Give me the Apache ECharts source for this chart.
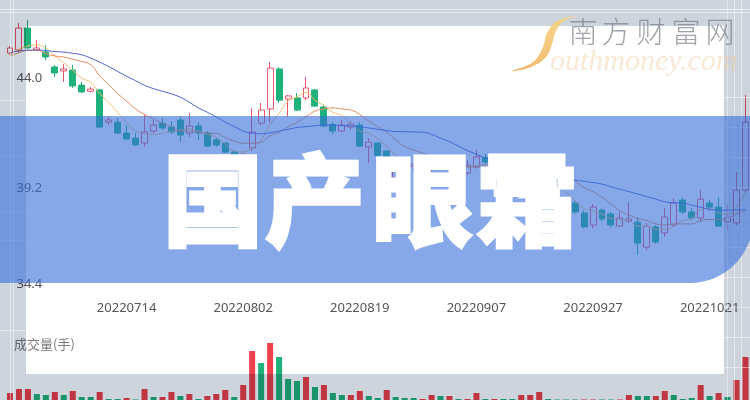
<!DOCTYPE html>
<html><head><meta charset="utf-8">
<script src="https://cdn.jsdelivr.net/npm/echarts@6/dist/echarts.min.js"></script>
<style>html,body{margin:0;padding:0;background:#fff}#c{width:750px;height:400px}</style>
</head><body><div id="c"></div>
<script>
const dates = ['20220627','20220628','20220629','20220630','20220701','20220704','20220705','20220706','20220707','20220708',
'20220711','20220712','20220713','20220714','20220715','20220718','20220719','20220720','20220721','20220722',
'20220725','20220726','20220727','20220728','20220729','20220801','20220802','20220803','20220804','20220805',
'20220808','20220809','20220810','20220811','20220812','20220815','20220816','20220817','20220818','20220819',
'20220822','20220823','20220824','20220825','20220826','20220829','20220830','20220831','20220901','20220902',
'20220905','20220906','20220907','20220908','20220909','20220913','20220914','20220915','20220916','20220919',
'20220920','20220921','20220922','20220923','20220926','20220927','20220928','20220929','20220930','20221010',
'20221011','20221012','20221013','20221014','20221017','20221018','20221019','20221020','20221021','20221024',
'20221025','20221026','20221027'];
const openP = [45.13,45.27,46.26,45.27,45.18,44.50,44.32,44.36,43.68,43.40,
43.46,42.00,42.00,41.51,41.28,41.06,41.60,41.96,41.78,42.10,
41.51,41.83,41.51,41.20,41.06,40.65,40.25,40.83,41.96,42.60,
44.41,43.05,43.10,43.10,43.46,42.69,41.90,41.60,41.78,41.87,
40.88,41.06,40.70,39.48,39.90,40.00,40.10,39.90,40.05,39.85,
39.95,39.70,39.97,40.40,40.20,40.35,40.25,40.05,40.30,39.90,
38.90,38.60,38.45,38.34,37.89,37.35,38.03,37.85,37.30,37.53,
37.48,36.35,37.26,36.99,37.35,38.48,37.94,37.67,38.34,38.16,
37.50,37.44,38.93];
const closeP = [45.36,46.26,45.36,45.36,44.95,44.23,44.41,43.64,43.37,43.50,
41.78,42.10,41.51,41.24,40.97,41.56,41.87,41.74,41.56,41.42,
41.83,41.51,40.92,40.97,40.65,40.30,40.55,41.56,42.55,44.45,
43.00,43.19,42.55,43.55,42.73,41.83,41.60,41.87,41.92,40.92,
41.10,40.50,40.20,39.88,39.70,40.10,39.90,40.05,39.90,39.95,
39.80,40.06,40.43,40.20,40.35,40.25,40.10,40.30,40.25,38.84,
38.60,38.45,38.30,37.94,37.26,38.16,37.62,37.35,37.67,37.62,
36.53,37.30,36.58,37.71,38.34,37.94,37.67,38.52,38.16,37.30,
37.70,38.93,42.00];
const highP = [45.45,46.49,46.62,45.72,45.49,44.59,44.63,44.59,43.82,43.60,
43.50,42.24,42.19,41.87,41.51,42.33,42.10,42.19,42.05,42.24,
42.42,42.00,41.60,41.30,41.10,40.75,40.60,42.64,42.87,44.72,
44.50,43.23,43.32,44.05,43.50,42.80,42.00,42.10,42.05,42.00,
41.28,41.10,40.70,40.00,40.10,40.15,40.25,40.20,40.15,40.10,
40.05,40.29,40.74,40.55,40.50,40.45,40.40,40.45,40.55,39.95,
39.00,38.80,38.60,38.45,38.00,38.30,38.10,37.95,37.94,38.39,
37.71,37.44,37.35,38.12,38.57,38.60,38.12,38.93,38.50,38.60,
38.30,39.75,43.23];
const lowP = [45.05,45.18,45.31,45.22,44.81,44.05,43.82,43.55,43.32,43.35,
41.74,41.87,41.47,41.19,40.93,40.88,41.51,41.65,41.47,41.10,
41.33,41.20,40.88,40.90,40.60,40.10,40.05,40.70,41.87,42.00,
42.87,42.24,42.50,43.00,42.70,41.78,41.47,41.56,41.65,40.88,
40.15,40.40,40.00,39.40,39.55,39.75,39.80,39.80,39.85,39.70,
39.70,39.61,39.90,40.10,40.10,40.15,40.00,39.95,40.10,38.70,
38.45,38.30,38.10,37.85,37.20,37.20,37.50,37.25,37.26,37.44,
35.99,36.22,36.50,36.81,37.26,37.85,37.58,37.48,38.00,37.26,
37.10,37.35,38.80];
const ma5 = [45.10,45.30,45.45,45.50,45.35,45.00,44.70,44.35,44.00,43.80,
43.30,42.90,42.45,42.00,41.60,41.50,41.45,41.50,41.60,41.65,
41.70,41.60,41.45,41.30,41.00,40.70,40.65,40.85,41.20,41.90,
42.40,42.95,43.15,43.35,43.00,42.75,42.45,42.30,41.95,41.60,
41.50,41.25,40.90,40.50,40.25,40.05,39.95,39.95,39.95,39.98,
39.92,39.95,40.05,40.10,40.20,40.25,40.25,40.25,40.25,39.95,
39.60,39.30,38.85,38.45,38.10,38.00,37.85,37.65,37.60,37.55,
37.30,37.30,37.15,37.15,37.30,37.55,37.65,38.05,38.10,37.90,
37.85,38.15,38.85];
const ma10 = [45.00,45.15,45.25,45.25,45.10,45.00,44.95,44.85,44.75,44.60,
44.10,43.70,43.30,42.95,42.60,42.35,42.15,41.95,41.80,41.60,
41.60,41.55,41.50,41.50,41.30,41.15,41.05,41.05,41.10,41.40,
41.55,41.80,42.00,42.25,42.50,42.60,42.65,42.60,42.55,42.35,
42.05,41.80,41.55,41.20,40.90,40.75,40.60,40.45,40.25,40.10,
40.00,39.98,40.00,40.02,40.05,40.10,40.12,40.15,40.18,40.05,
39.95,39.80,39.60,39.35,39.05,38.85,38.60,38.30,38.00,37.80,
37.65,37.55,37.40,37.35,37.40,37.40,37.40,37.55,37.60,37.60,
37.65,37.85,38.00];
const ma20 = [45.15,45.22,45.26,45.27,45.24,45.20,45.17,45.12,45.05,44.90,
44.72,44.52,44.30,44.08,43.88,43.67,43.52,43.40,43.28,43.13,
42.90,42.65,42.45,42.24,42.00,41.80,41.60,41.50,41.48,41.52,
41.60,41.68,41.76,41.80,41.84,41.87,41.87,41.85,41.83,41.80,
41.74,41.68,41.62,41.58,41.57,41.56,41.55,41.45,41.28,41.12,
40.92,40.72,40.55,40.38,40.25,40.12,40.00,39.88,39.78,39.68,
39.60,39.50,39.43,39.38,39.33,39.27,39.20,39.08,38.97,38.86,
38.75,38.63,38.52,38.40,38.36,38.34,38.25,38.15,38.06,38.02,
38.02,38.03,38.05];
const volumes = [700,1100,1100,600,500,800,500,900,300,300,
800,100,100,200,50,1100,300,300,800,400,
600,100,400,600,1000,300,1500,4900,3700,5700,
4300,2100,1900,2300,1300,1500,700,500,500,900,
400,200,1000,300,200,200,100,500,400,400,
100,100,700,100,100,100,100,500,500,800,
100,50,50,50,50,50,50,50,50,500,
400,400,400,900,500,100,200,1500,400,700,
300,2000,4300];
const volDir = [1,1,1,-1,-1,1,-1,1,-1,-1,
1,-1,-1,1,-1,1,-1,1,1,-1,
1,-1,1,1,1,-1,1,1,-1,1,
-1,-1,-1,1,-1,1,-1,-1,1,1,
-1,-1,1,-1,-1,-1,1,1,-1,1,
-1,1,1,-1,1,-1,-1,1,1,1,
-1,-1,-1,-1,1,1,-1,-1,1,1,
-1,-1,1,1,-1,-1,-1,1,-1,1,
-1,1,1];
const priceTicks = [34.4, 39.2, 44.0];
const titleChars = ['国','产','眼','霜'];
const wmChars = ['南','方','财','富','网'];

const UP = '#ec5467', DOWN = '#1fb27b', VUP = '#ee3f4c';
const candle = dates.map((d,i)=>[openP[i], closeP[i], lowP[i], highP[i]]);
const vol = volumes.map((v,i)=>({value:v, itemStyle:{color: volDir[i]>0 ? VUP : DOWN}}));

const tickStep = priceTicks[1]-priceTicks[0];
const chart = echarts.init(document.getElementById('c'), null, {renderer:'canvas'});

const frameFill = '#cdd4dc';
const graphics = [
  {type:'rect', z:100, shape:{x:0,y:0,width:750,height:26}, style:{fill:frameFill, blend:'multiply'}},
  {type:'rect', z:100, shape:{x:0,y:374,width:750,height:26}, style:{fill:frameFill, blend:'multiply'}},
  {type:'rect', z:100, shape:{x:0,y:26,width:26,height:348}, style:{fill:frameFill, blend:'multiply'}},
  {type:'rect', z:100, shape:{x:724,y:26,width:26,height:348}, style:{fill:frameFill, blend:'multiply'}}
];
[9.5,12.5].forEach(y=>graphics.push({type:'line', z:101, shape:{x1:0,y1:y,x2:750,y2:y}, style:{stroke:'rgba(255,255,255,0.55)', lineWidth:1}}));
[10.5,13.5].forEach(x=>graphics.push({type:'line', z:101, shape:{x1:x,y1:0,x2:x,y2:400}, style:{stroke:'rgba(255,255,255,0.45)', lineWidth:1}}));
[727.5,734.5,741.5].forEach(x=>graphics.push({type:'line', z:101, shape:{x1:x,y1:0,x2:x,y2:400}, style:{stroke:'rgba(255,255,255,0.45)', lineWidth:1}}));
[100,155,212,240,330].forEach(y=>graphics.push({type:'line', z:101, shape:{x1:0,y1:y+.5,x2:26,y2:y+.5}, style:{stroke:'rgba(255,255,255,0.45)', lineWidth:1}}));
[97,127,157,187,217,247,277,307,337,367].forEach(y=>graphics.push({type:'line', z:101, shape:{x1:724,y1:y+.5,x2:750,y2:y+.5}, style:{stroke:'rgba(255,255,255,0.45)', lineWidth:1}}));
graphics.push({type:'rect', z:110, shape:{x:-10,y:116,width:763,height:167,r:[0,0,63,0]}, style:{fill:'rgba(53,110,217,0.6)'}});
const tX = [213,315,422,527];
titleChars.forEach((ch,k)=>graphics.push({type:'text', z:120, x:tX[k], y:200,
  style:{text:ch, fill:'#ffffff', font:'900 100px "Noto Sans CJK SC"', textAlign:'center', textVerticalAlign:'middle', stroke:'#ffffff', lineWidth:3}}));
const wX = [583,616,651,686,720];
wmChars.forEach((ch,k)=>graphics.push({type:'text', z:115, x:wX[k], y:32,
  style:{text:ch, fill:'rgba(120,125,131,0.7)', font:'300 29px "Noto Sans CJK SC"', textAlign:'center', textVerticalAlign:'middle'}}));
graphics.push({type:'text', z:115, x:550, y:77,
  style:{text:'outhmoney.com', fill:'rgba(240,200,150,0.42)', font:'italic 30px "Liberation Serif"', textAlign:'left', textVerticalAlign:'bottom'}});
graphics.push({type:'polygon', z:115,
  shape:{points:[[578,16],[557,21],[547,33],[543,47],[533,62],[512,71],[531,67],[546,57],[552,44],[556,31],[564,21]], smooth:0.4},
  style:{fill:{type:'linear',x:0,y:0,x2:0,y2:1,colorStops:[{offset:0,color:'rgba(246,210,125,0.85)'},{offset:1,color:'rgba(238,170,75,0.8)'}]}}});

chart.setOption({
  animation:false,
  backgroundColor:'#ffffff',
  title:{text:'成交量(手)', left:14, top:338, padding:0, textStyle:{fontSize:13, fontWeight:'normal', color:'#7a7a7a', fontFamily:'"Noto Sans CJK SC"'}},
  grid:[{left:5.5, width:747, top:7.3, height:282.9},{left:5.5, width:747, top:330, height:70}],
  xAxis:[
    {type:'category', data:dates, gridIndex:0, boundaryGap:true, axisLine:{show:false}, axisTick:{show:false},
     axisLabel:{interval:(idx)=>idx>0 && idx%13===0, margin:12, color:'#555', fontSize:13, fontFamily:'"Noto Sans"'}, splitLine:{show:false}},
    {type:'category', data:dates, gridIndex:1, boundaryGap:true, axisLine:{show:false}, axisTick:{show:false}, axisLabel:{show:false}}
  ],
  yAxis:[
    {type:'value', gridIndex:0, min:priceTicks[0], max:47.2, interval:tickStep, splitLine:{show:false}, axisLine:{show:false}, axisTick:{show:false},
     axisLabel:{inside:true, margin:11, color:'#555', fontSize:13, fontFamily:'"Noto Sans"', showMaxLabel:false,
       formatter:(v)=>{ const s=v.toFixed(1); if (Math.abs(v-priceTicks[0])<0.01) return '{lo|'+s+'}'; if (Math.abs(v-priceTicks[1])<0.01) return '{mid|'+s+'}'; return s; },
       rich:{lo:{padding:[0,0,12,0], color:'#555', fontSize:13, fontFamily:'"Noto Sans"'}, mid:{padding:[8,0,0,0], color:'#555', fontSize:13, fontFamily:'"Noto Sans"'}}}},
    {type:'value', gridIndex:1, min:0, max:7000, show:false, splitLine:{show:false}}
  ],
  series:[
    {type:'candlestick', xAxisIndex:0, yAxisIndex:0, data:candle, barWidth:'72%',
     itemStyle:{color:'#ffffff', color0:DOWN, borderColor:UP, borderColor0:DOWN, borderWidth:1}},
    {type:'line', xAxisIndex:0, yAxisIndex:0, data:ma5, smooth:true, showSymbol:false, lineStyle:{width:1, color:'#f3c070'}},
    {type:'line', xAxisIndex:0, yAxisIndex:0, data:ma10, smooth:true, showSymbol:false, lineStyle:{width:1, color:'#e88a5a'}},
    {type:'line', xAxisIndex:0, yAxisIndex:0, data:ma20, smooth:true, showSymbol:false, lineStyle:{width:1, color:'#4a62cc'}},
    {type:'bar', xAxisIndex:1, yAxisIndex:1, data:vol, barWidth:6}
  ],
  graphic:graphics
});
</script></body></html>
